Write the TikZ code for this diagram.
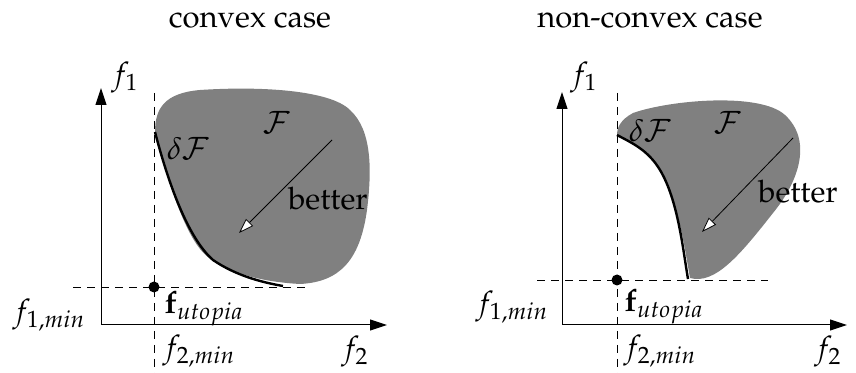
\documentclass[tikz,border=0pt]{standalone}
\usepackage[T1]{fontenc}
\usepackage{mathpazo}
\usepackage{tikz}
\usetikzlibrary{arrows.meta,positioning,calc}
\tikzset{
  axis/.style={-{Triangle[length=8.5pt, width=5.5pt]}, line width=0.5pt},
  guide/.style={dashed, line width=0.4pt, dash pattern=on 4pt off 3pt},
  front/.style={line width=1.2pt},
  region/.style={fill=black!50, draw=none},
  better/.style={-{Triangle[length=7.5pt, width=5pt, fill=white]}, line width=0.4pt},
  lbl/.style={inner sep=0pt},
  utop/.style={circle, fill=black, minimum size=5.5pt, inner sep=0pt},
}

\begin{document}
\begin{tikzpicture}[x=0.5pt,y=-0.5pt,font=\fontsize{15.5}{18}\selectfont]
\useasboundingbox (0,0) rectangle (856,373);
% left: convex case
\node[lbl] (tl) at (250,20) {convex case};
\fill[region] (155,132) .. controls (170,190) and (190,250) .. (213,260)
  .. controls (235,275) and (265,282) .. (300,284)
  .. controls (340,282) and (360,260) .. (367,210)
  .. controls (372,170) and (372,130) .. (350,110)
  .. controls (330,90) and (260,86) .. (200,90)
  .. controls (165,93) and (155,108) .. (155,132) -- cycle;
\draw[front] (155,132) .. controls (170,190) and (190,240) .. (213,260)
  .. controls (235,275) and (260,282) .. (283,286);
\coordinate (o1) at (101,325);
\coordinate (y1) at (101,88);
\coordinate (x1) at (387,325);
\draw[axis] (o1) -- (y1);
\draw[axis] (o1) -- (x1);
\coordinate (v1a) at (154,93);
\coordinate (v1b) at (154,373);
\coordinate (h1a) at (73,287);
\coordinate (h1b) at (305,287);
\draw[guide] (v1a) -- (v1b);
\draw[guide] (h1a) -- (h1b);
\node[utop] (u1) at (154,287) {};
\node[lbl] (f1l) at (125,78) {$f_1$};
\node[lbl] (f2l) at (355,352) {$f_2$};
\node[lbl] (f1m) at (49,315) {$f_{1,min}$};
\node[lbl] (f2m) at (199,351) {$f_{2,min}$};
\node[lbl] (fu1) at (204,309) {$\mathbf{f}_{utopia}$};
\node[lbl] (F1) at (277,122) {$\mathcal{F}$};
\node[lbl] (dF1) at (188,149) {$\delta\mathcal{F}$};
\node[lbl] (b1) at (328,199) {better};
\coordinate (a1s) at (332,140);
\coordinate (a1e) at (239,233);
\draw[better] (a1s) -- (a1e);
% right: non-convex case
\node[lbl] (tr) at (650,20) {non-convex case};
\fill[region] (617,135) .. controls (632,143) and (648,150) .. (660,170)
  .. controls (678,200) and (685,250) .. (690,278)
  .. controls (715,285) and (740,255) .. (773,213)
  .. controls (800,180) and (812,140) .. (785,115)
  .. controls (760,92) and (670,100) .. (633,113)
  .. controls (620,120) and (617,128) .. (617,135) -- cycle;
\draw[front] (617,135) .. controls (632,143) and (648,150) .. (660,170)
  .. controls (678,200) and (683,250) .. (688,279);
\coordinate (o2) at (562,325);
\coordinate (y2) at (562,92);
\coordinate (x2) at (847,325);
\draw[axis] (o2) -- (y2);
\draw[axis] (o2) -- (x2);
\coordinate (v2a) at (617,93);
\coordinate (v2b) at (617,373);
\coordinate (h2a) at (537,280);
\coordinate (h2b) at (768,280);
\draw[guide] (v2a) -- (v2b);
\draw[guide] (h2a) -- (h2b);
\node[utop] (u2) at (617,280) {};
\node[lbl] (f1r) at (584,78) {$f_1$};
\node[lbl] (f2r) at (828,352) {$f_2$};
\node[lbl] (f1n) at (512,307) {$f_{1,min}$};
\node[lbl] (f2n) at (660,351) {$f_{2,min}$};
\node[lbl] (fu2) at (664,307) {$\mathbf{f}_{utopia}$};
\node[lbl] (F2) at (728,122) {$\mathcal{F}$};
\node[lbl] (dF2) at (650,131) {$\delta\mathcal{F}$};
\node[lbl] (b2) at (798,192) {better};
\coordinate (a2s) at (793,138);
\coordinate (a2e) at (702,232);
\draw[better] (a2s) -- (a2e);
\end{tikzpicture}
\end{document}
